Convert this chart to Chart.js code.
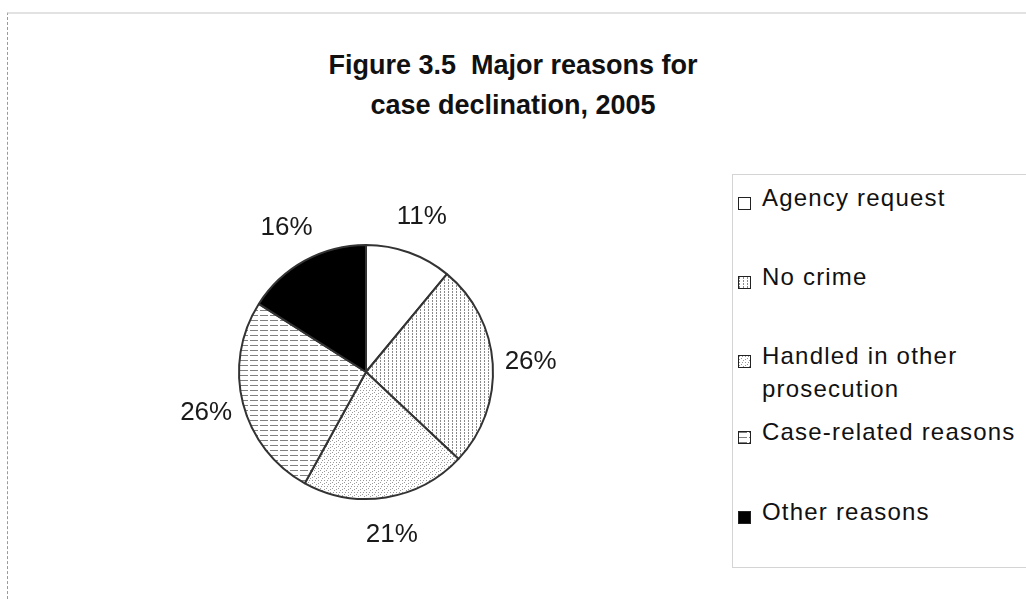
<!DOCTYPE html>
<html>
<head>
<meta charset="utf-8">
<script src="https://cdn.jsdelivr.net/npm/chart.js@4"></script>
<style>
    html, body { margin: 0; padding: 0; background: #fff; }
    body { width: 1026px; height: 599px; position: relative; overflow: hidden; font-family: "Liberation Sans", Arial, sans-serif; }
    .frame { position: absolute; left: 7px; top: 12px; width: 1040px; height: 600px; border-top: 2px solid #e2e2e2; border-left: 1px dashed #9a9a9a; }
    .title { position: absolute; left: 0; top: 45px; width: 1026px; text-align: center; font-weight: bold; font-size: 27px; line-height: 40px; color: #111; }
    #chartWrap { position: absolute; left: 0; top: 0; width: 1026px; height: 599px; }
    .legend { position: absolute; left: 732px; top: 174px; width: 310px; height: 392px; border: 1px solid #d4d4d4; background: #fff; }
    .legend-item { position: absolute; left: 4px; font-size: 24px; letter-spacing: 1.2px; line-height: 33px; color: #111; white-space: nowrap; }
    .legend-item .sw { position: absolute; left: 1px; top: 16px; width: 11px; height: 11px; border: 1px solid #222; }
    .legend-item .txt { margin-left: 25px; display: block; }
</style>
</head>
<body>
<div class="frame"></div>
<div class="title">Figure 3.5&nbsp; Major reasons for<br>case declination, 2005</div>
<div id="chartWrap"><canvas id="pie" width="1026" height="599"></canvas></div>
<div class="legend" id="legend"></div>

<script>
// data
const categories = ['Agency request', 'No crime', 'Handled in other prosecution', 'Case-related reasons', 'Other reasons'];
const legendLines = [['Agency request'], ['No crime'], ['Handled in other', 'prosecution'], ['Case-related reasons'], ['Other reasons']];
const shares = [11, 26, 21, 26, 16];

// pattern tiles (black & white hatch like the print version)
function makeTile(kind) {
    const c = document.createElement('canvas');
    const g = c.getContext('2d');
    if (kind === 'white') {
        c.width = c.height = 4;
        g.fillStyle = '#fff';
        g.fillRect(0, 0, 4, 4);
    } else if (kind === 'vert') {
        c.width = 4; c.height = 3;
        g.fillStyle = '#fff';
        g.fillRect(0, 0, 4, 3);
        g.fillStyle = '#8a8a8a';
        g.fillRect(0, 0, 1, 2);
    } else if (kind === 'dots') {
        c.width = 6; c.height = 6;
        g.fillStyle = '#fff';
        g.fillRect(0, 0, 6, 6);
        g.fillStyle = '#9a9a9a';
        g.fillRect(0, 0, 1, 1);
        g.fillRect(2, 2, 1, 1);
        g.fillRect(4, 4, 1, 1);
        g.fillRect(3, 0, 1, 1);
        g.fillRect(0, 3, 1, 1);
    } else if (kind === 'horiz') {
        c.width = 10; c.height = 5;
        g.fillStyle = '#fff';
        g.fillRect(0, 0, 10, 5);
        g.fillStyle = '#808080';
        g.fillRect(0, 0, 8, 1);
    } else {
        c.width = c.height = 4;
        g.fillStyle = '#000';
        g.fillRect(0, 0, 4, 4);
    }
    return c;
}

const tileKinds = ['white', 'vert', 'dots', 'horiz', 'black'];
const tiles = tileKinds.map(makeTile);
const ctx = document.getElementById('pie').getContext('2d');
const fills = tiles.map(t => ctx.createPattern(t, 'repeat'));

// percent labels outside the pie
const outsideLabels = {
    id: 'outsideLabels',
    afterDatasetsDraw(chart) {
        const meta = chart.getDatasetMeta(0);
        const c = chart.ctx;
        c.save();
        c.font = '26px "Liberation Sans", Arial, sans-serif';
        c.fillStyle = '#1a1a1a';
        c.textAlign = 'center';
        c.textBaseline = 'middle';
        meta.data.forEach((arc, i) => {
            const mid = (arc.startAngle + arc.endAngle) / 2;
            const d = arc.outerRadius + 38;
            const x = arc.x + Math.cos(mid) * d;
            const y = arc.y + Math.sin(mid) * d;
            c.fillText(shares[i] + '%', x, y);
        });
        c.restore();
    }
};

new Chart(ctx, {
    type: 'pie',
    data: {
        labels: categories,
        datasets: [{
            data: shares,
            backgroundColor: fills,
            borderColor: '#333',
            borderWidth: 2
        }]
    },
    options: {
        responsive: false,
        animation: false,
        layout: { padding: { left: 238, right: 532, top: 244, bottom: 99 } },
        plugins: {
            legend: { display: false },
            tooltip: { enabled: false },
            title: { display: false }
        }
    },
    plugins: [outsideLabels]
});

// legend
const itemTops = [6, 85, 164, 240, 320];
const legendEl = document.getElementById('legend');
legendEl.innerHTML = legendLines.map((lines, i) => `
    <div class="legend-item" style="top:${itemTops[i]}px">
        <span class="sw" style="background-image:url(${tiles[i].toDataURL()})"></span>
        <span class="txt">${lines.join('<br>')}</span>
    </div>
`).join('');
</script>
</body>
</html>
